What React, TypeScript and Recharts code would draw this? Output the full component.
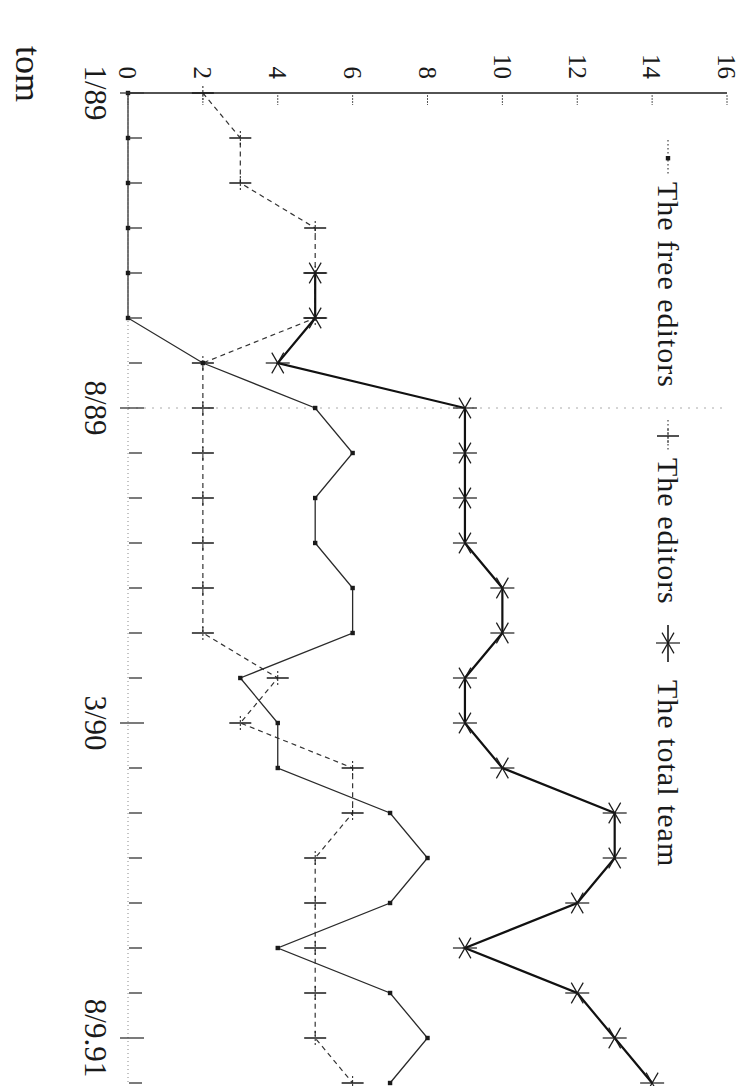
import React from 'react';
import { LineChart, Line, XAxis, YAxis, ReferenceLine, Legend } from 'recharts';

// chart is drawn upright and then turned a quarter turn clockwise, like the scan
const periods = [
  '1/89', '2/89', '3/89', '4/89', '5/89', '6/89', '7/89', '8/89',
  '9/89', '10/89', '11/89', '12/89', '1/90', '2/90', '3/90', '4/90',
  '5/90', '6/90', '7/90', '8/90', '9/90', '8/9.91', '9/9.91',
];
const tickLabels = ['1/89', '8/89', '3/90', '8/9.91'];
const freeEditors = [0, 0, 0, 0, 0, 0, 2, 5, 6, 5, 5, 6, 6, 3, 4, 4, 7, 8, 7, 4, 7, 8, 7];
const editors = [2, 3, 3, 5, 5, 5, 2, 2, 2, 2, 2, 2, 2, 4, 3, 6, 6, 5, 5, 5, 5, 5, 6];
const totalTeam = [null, null, null, null, 5, 5, 4, 9, 9, 9, 9, 10, 10, 9, 9, 10, 13, 13, 12, 9, 12, 13, 14];
const valueTicks = [0, 2, 4, 6, 8, 10, 12, 14, 16];
const seriesNames = ['The free editors', 'The editors', 'The total team'];

const data = periods.map((p, i) => ({
  period: p,
  free: freeEditors[i],
  editors: editors[i],
  total: totalTeam[i],
}));

const W = 1086;
const H = 740;
const serif = '"Liberation Serif", "Times New Roman", "DejaVu Serif", serif';
const ink = '#1a1a1a';

function SquareDot(props: any) {
  const { cx, cy, value } = props;
  if (cx == null || cy == null || value == null) return null;
  return <rect x={cx - 2.2} y={cy - 2.2} width={4.4} height={4.4} fill={ink} />;
}

function PlusMark({ cx, cy }: { cx: number; cy: number }) {
  return (
    <g stroke={ink}>
      <line x1={cx} x2={cx} y1={cy - 11} y2={cy + 11} strokeWidth={1.5} />
      <line x1={cx - 7} x2={cx + 7} y1={cy} y2={cy} strokeWidth={1} strokeDasharray="2 2" />
    </g>
  );
}

function PlusDot(props: any) {
  const { cx, cy, value } = props;
  if (cx == null || cy == null || value == null) return null;
  return <PlusMark cx={cx} cy={cy} />;
}

function StarMark({ cx, cy }: { cx: number; cy: number }) {
  const r = 12;
  const dx = r * Math.cos(Math.PI / 6);
  const dy = r * Math.sin(Math.PI / 6);
  return (
    <g stroke={ink} strokeWidth={1.2}>
      <line x1={cx} x2={cx} y1={cy - r} y2={cy + r} />
      <line x1={cx - dx} y1={cy - dy} x2={cx + dx} y2={cy + dy} />
      <line x1={cx - dx} y1={cy + dy} x2={cx + dx} y2={cy - dy} />
    </g>
  );
}

function StarDot(props: any) {
  const { cx, cy, value } = props;
  if (cx == null || cy == null || value == null) return null;
  return <StarMark cx={cx} cy={cy} />;
}

function PeriodTick(props: any) {
  const { x, y, payload } = props;
  const shown = tickLabels.includes(payload.value);
  return (
    <g>
      <line x1={x} x2={x} y1={shown ? y - 16 : y - 14} y2={shown ? y + 8 : y - 1} stroke="#333" strokeWidth={1.3} />
      {shown && (
        <text x={x} y={y + 43} textAnchor="middle" fontSize={31} fontFamily={serif} fill={ink}>
          {payload.value}
        </text>
      )}
    </g>
  );
}

function ValueTick(props: any) {
  const { x, y, payload } = props;
  return (
    <g>
      <line x1={x + 2} x2={x + 12} y1={y} y2={y} stroke="#555" strokeWidth={1} strokeDasharray="2 1" />
      <text x={x - 14} y={y} dy="0.35em" textAnchor="end" fontSize={25} fontFamily={serif} fill={ink}>
        {payload.value}
      </text>
    </g>
  );
}

function LegendBox() {
  const ly = 72;
  const txt = { fontSize: 30, fontFamily: serif, fill: ink, letterSpacing: 1 } as const;
  return (
    <svg width={W} height={H} style={{ position: 'absolute', left: 0, top: 0 }}>
      <line x1={140} x2={176} y1={ly} y2={ly} stroke={ink} strokeWidth={1} strokeDasharray="1.5 2.5" />
      <rect x={156} y={ly - 2.2} width={4.4} height={4.4} fill={ink} />
      <text x={182} y={ly} dy="0.35em" {...txt}>{seriesNames[0]}</text>

      <line x1={420} x2={452} y1={ly} y2={ly} stroke={ink} strokeWidth={1} strokeDasharray="1.5 2.5" />
      <PlusMark cx={436} cy={ly} />
      <text x={458} y={ly} dy="0.35em" {...txt}>{seriesNames[1]}</text>

      <line x1={625} x2={662} y1={ly} y2={ly} stroke={ink} strokeWidth={1.6} />
      <StarMark cx={643} cy={ly} />
      <text x={680} y={ly} dy="0.35em" {...txt}>{seriesNames[2]}</text>

      <text x={46} y={724} fontSize={36} fontFamily={serif} fill={ink}>tom</text>
    </svg>
  );
}

export default function App() {
  return (
    <div style={{ position: 'absolute', left: 0, top: 0, width: 740, height: 1086, overflow: 'hidden', background: '#fff' }}>
      <div
        style={{
          position: 'absolute',
          left: 0,
          top: 0,
          width: W,
          height: H,
          transformOrigin: '0 0',
          transform: 'translate(740px, 0px) rotate(90deg)',
        }}
      >
        <LineChart width={W} height={H} data={data} margin={{ top: 13, right: 3, bottom: 0, left: 0 }}>
          <XAxis
            dataKey="period"
            height={128}
            interval={0}
            tickSize={0}
            tickMargin={0}
            tickLine={false}
            padding={{ left: 0, right: 0 }}
            axisLine={{ stroke: '#888', strokeDasharray: '1 3', strokeWidth: 1 }}
            tick={<PeriodTick />}
          />
          <YAxis
            type="number"
            domain={[0, 16]}
            ticks={valueTicks}
            width={93}
            tickSize={0}
            tickMargin={0}
            tickLine={false}
            axisLine={{ stroke: ink, strokeWidth: 1.6 }}
            tick={<ValueTick />}
          />
          <ReferenceLine x="8/89" stroke="#aaa" strokeDasharray="2 6" />
          <Line
            dataKey="free"
            name={seriesNames[0]}
            stroke="#2a2a2a"
            strokeWidth={1.3}
            dot={<SquareDot />}
            activeDot={false}
            isAnimationActive={false}
          />
          <Line
            dataKey="editors"
            name={seriesNames[1]}
            stroke="#333"
            strokeWidth={1.2}
            strokeDasharray="5 4"
            dot={<PlusDot />}
            activeDot={false}
            isAnimationActive={false}
          />
          <Line
            dataKey="total"
            name={seriesNames[2]}
            stroke="#111"
            strokeWidth={2.2}
            dot={<StarDot />}
            activeDot={false}
            isAnimationActive={false}
          />
          <Legend
            layout="vertical"
            align="center"
            verticalAlign="middle"
            width={W}
            height={H}
            wrapperStyle={{ position: 'absolute', left: 0, top: 0, width: W, height: H, pointerEvents: 'none' }}
            content={() => <LegendBox />}
          />
        </LineChart>
      </div>
    </div>
  );
}
